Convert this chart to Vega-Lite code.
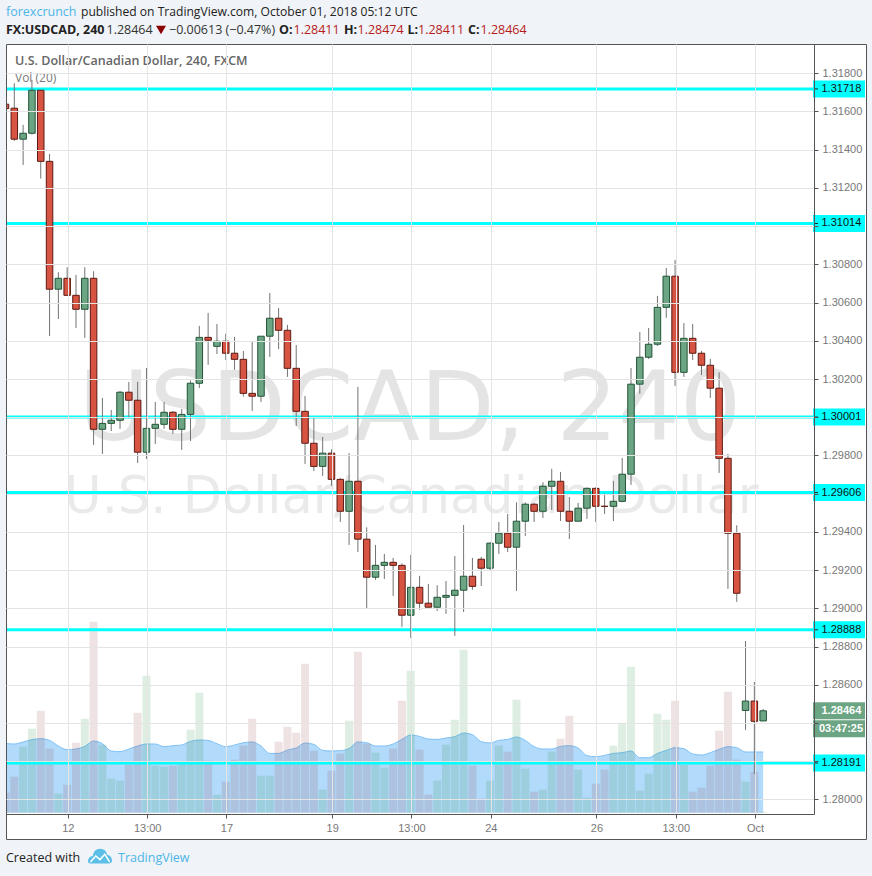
{"$schema":"https://vega.github.io/schema/vega-lite/v6.json","width":808,"height":770,"autosize":{"type":"none"},"padding":{"left":6,"top":44,"right":58,"bottom":62},"background":"#f0f3f7","view":{"fill":"#ffffff","stroke":null},"config":{"axis":{"title":null}},"resolve":{"scale":{"y":"independent"}},
"datasets":{"c":[
{"i":0,"o":1.31638,"h":1.3166,"l":1.316,"c":1.31615,"v":20,"m":69.3},
{"i":1,"o":1.31617,"h":1.31748,"l":1.31446,"c":1.31455,"v":36,"m":68.7},
{"i":2,"o":1.31455,"h":1.3153,"l":1.3132,"c":1.31486,"v":66,"m":70.7},
{"i":3,"o":1.31486,"h":1.31765,"l":1.31479,"c":1.31711,"v":84,"m":73},
{"i":4,"o":1.31711,"h":1.31711,"l":1.31249,"c":1.31339,"v":102,"m":74},
{"i":5,"o":1.31339,"h":1.31378,"l":1.30425,"c":1.3067,"v":64,"m":72.3},
{"i":6,"o":1.3067,"h":1.30759,"l":1.30514,"c":1.30727,"v":19,"m":66.7},
{"i":7,"o":1.30727,"h":1.30785,"l":1.30638,"c":1.30638,"v":28,"m":63},
{"i":8,"o":1.30638,"h":1.30745,"l":1.30467,"c":1.30565,"v":70,"m":63.7},
{"i":9,"o":1.30565,"h":1.30785,"l":1.30415,"c":1.30727,"v":94,"m":66.3},
{"i":10,"o":1.30727,"h":1.30764,"l":1.29855,"c":1.29937,"v":191,"m":71.7},
{"i":11,"o":1.29937,"h":1.30101,"l":1.29808,"c":1.29968,"v":68,"m":69},
{"i":12,"o":1.29968,"h":1.30038,"l":1.29928,"c":1.29984,"v":34,"m":61.7},
{"i":13,"o":1.29984,"h":1.30138,"l":1.29939,"c":1.30131,"v":32,"m":61},
{"i":14,"o":1.30131,"h":1.30185,"l":1.29995,"c":1.30089,"v":48,"m":63.7},
{"i":15,"o":1.30089,"h":1.30185,"l":1.29761,"c":1.29817,"v":100,"m":66.7},
{"i":16,"o":1.29817,"h":1.30258,"l":1.29782,"c":1.29942,"v":137,"m":68.7},
{"i":17,"o":1.29942,"h":1.3008,"l":1.2986,"c":1.29963,"v":47,"m":68.7},
{"i":18,"o":1.29963,"h":1.3008,"l":1.29939,"c":1.30026,"v":46,"m":66},
{"i":19,"o":1.30026,"h":1.30033,"l":1.29913,"c":1.29937,"v":47,"m":67},
{"i":20,"o":1.29937,"h":1.30043,"l":1.29829,"c":1.30015,"v":49,"m":67.7},
{"i":21,"o":1.30015,"h":1.30193,"l":1.29876,"c":1.30178,"v":83,"m":71.3},
{"i":22,"o":1.30178,"h":1.30478,"l":1.30153,"c":1.30418,"v":120,"m":72.7},
{"i":23,"o":1.30418,"h":1.30546,"l":1.30274,"c":1.30403,"v":52,"m":72.3},
{"i":24,"o":1.30371,"h":1.30488,"l":1.30331,"c":1.30398,"v":18,"m":69},
{"i":25,"o":1.30398,"h":1.30436,"l":1.303,"c":1.30335,"v":31,"m":66},
{"i":26,"o":1.30335,"h":1.3042,"l":1.30248,"c":1.30303,"v":53,"m":67.7},
{"i":27,"o":1.30303,"h":1.30347,"l":1.30108,"c":1.30125,"v":67,"m":70},
{"i":28,"o":1.30125,"h":1.30399,"l":1.30033,"c":1.3011,"v":94,"m":70.7},
{"i":29,"o":1.3011,"h":1.30424,"l":1.3008,"c":1.30424,"v":37,"m":66.7},
{"i":30,"o":1.30424,"h":1.3065,"l":1.30316,"c":1.30518,"v":37,"m":59.3},
{"i":31,"o":1.30518,"h":1.30572,"l":1.30357,"c":1.30455,"v":71,"m":59.3},
{"i":32,"o":1.30455,"h":1.30483,"l":1.30211,"c":1.30256,"v":86,"m":62.7},
{"i":33,"o":1.30256,"h":1.30378,"l":1.29954,"c":1.30031,"v":80,"m":64.7},
{"i":34,"o":1.30031,"h":1.30111,"l":1.29756,"c":1.29864,"v":149,"m":69.7},
{"i":35,"o":1.29864,"h":1.29995,"l":1.29719,"c":1.29743,"v":62,"m":68.3},
{"i":36,"o":1.29743,"h":1.29897,"l":1.29693,"c":1.29812,"v":23,"m":62.3},
{"i":37,"o":1.29812,"h":1.29832,"l":1.29641,"c":1.29675,"v":42,"m":61.7},
{"i":38,"o":1.29675,"h":1.29681,"l":1.29452,"c":1.29508,"v":59,"m":62},
{"i":39,"o":1.29508,"h":1.29812,"l":1.29332,"c":1.29665,"v":92,"m":64.3},
{"i":40,"o":1.29665,"h":1.30159,"l":1.29295,"c":1.29362,"v":161,"m":70.7},
{"i":41,"o":1.29362,"h":1.29424,"l":1.29002,"c":1.29163,"v":69,"m":70},
{"i":42,"o":1.29163,"h":1.29332,"l":1.29149,"c":1.29225,"v":60,"m":66.7},
{"i":43,"o":1.29225,"h":1.29285,"l":1.29154,"c":1.29241,"v":45,"m":66.7},
{"i":44,"o":1.29241,"h":1.29264,"l":1.29065,"c":1.29225,"v":64,"m":68.7},
{"i":45,"o":1.29225,"h":1.29236,"l":1.28903,"c":1.28964,"v":112,"m":73.3},
{"i":46,"o":1.28964,"h":1.2928,"l":1.28845,"c":1.2911,"v":142,"m":77.7},
{"i":47,"o":1.2911,"h":1.2917,"l":1.28992,"c":1.29027,"v":63,"m":76.3},
{"i":48,"o":1.29027,"h":1.29128,"l":1.29006,"c":1.29006,"v":18,"m":73.7},
{"i":49,"o":1.29006,"h":1.29121,"l":1.28986,"c":1.29058,"v":32,"m":73.3},
{"i":50,"o":1.29058,"h":1.29143,"l":1.28971,"c":1.29068,"v":68,"m":74.7},
{"i":51,"o":1.29068,"h":1.29274,"l":1.28856,"c":1.29095,"v":93,"m":76},
{"i":52,"o":1.29095,"h":1.29436,"l":1.28981,"c":1.29168,"v":163,"m":79.7},
{"i":53,"o":1.29168,"h":1.29264,"l":1.29097,"c":1.29115,"v":47,"m":78},
{"i":54,"o":1.29257,"h":1.29269,"l":1.29117,"c":1.2921,"v":14,"m":71},
{"i":55,"o":1.2921,"h":1.29346,"l":1.29198,"c":1.29341,"v":32,"m":69.7},
{"i":56,"o":1.29341,"h":1.29452,"l":1.29285,"c":1.29393,"v":67,"m":72.3},
{"i":57,"o":1.29393,"h":1.29494,"l":1.29295,"c":1.2932,"v":61,"m":73.3},
{"i":58,"o":1.2932,"h":1.29555,"l":1.29091,"c":1.29456,"v":113,"m":75.7},
{"i":59,"o":1.29456,"h":1.29555,"l":1.29379,"c":1.29545,"v":44,"m":72.3},
{"i":60,"o":1.29545,"h":1.2955,"l":1.29452,"c":1.29508,"v":21,"m":66},
{"i":61,"o":1.29508,"h":1.2966,"l":1.29473,"c":1.29639,"v":23,"m":63.7},
{"i":62,"o":1.29639,"h":1.2973,"l":1.29515,"c":1.29665,"v":61,"m":63.7},
{"i":63,"o":1.29665,"h":1.29714,"l":1.29457,"c":1.29508,"v":74,"m":66.3},
{"i":64,"o":1.29508,"h":1.29583,"l":1.29363,"c":1.29456,"v":97,"m":67},
{"i":65,"o":1.29456,"h":1.29552,"l":1.29456,"c":1.29524,"v":43,"m":64.7},
{"i":66,"o":1.29524,"h":1.29633,"l":1.29468,"c":1.29628,"v":15,"m":57},
{"i":67,"o":1.29628,"h":1.29633,"l":1.29452,"c":1.29534,"v":29,"m":56},
{"i":68,"o":1.29534,"h":1.29602,"l":1.29494,"c":1.29534,"v":43,"m":57.3},
{"i":69,"o":1.29534,"h":1.29667,"l":1.29457,"c":1.2956,"v":67,"m":59.3},
{"i":70,"o":1.2956,"h":1.29787,"l":1.29555,"c":1.29702,"v":90,"m":60},
{"i":71,"o":1.29702,"h":1.30258,"l":1.29646,"c":1.30173,"v":146,"m":61.7},
{"i":72,"o":1.30173,"h":1.30446,"l":1.30122,"c":1.30314,"v":22,"m":55},
{"i":73,"o":1.30314,"h":1.30467,"l":1.30305,"c":1.30382,"v":39,"m":55},
{"i":74,"o":1.30382,"h":1.30635,"l":1.30373,"c":1.30575,"v":99,"m":59.3},
{"i":75,"o":1.30575,"h":1.30781,"l":1.3052,"c":1.30738,"v":93,"m":62.3},
{"i":76,"o":1.30738,"h":1.30823,"l":1.30164,"c":1.30235,"v":112,"m":65},
{"i":77,"o":1.30235,"h":1.30493,"l":1.30211,"c":1.30413,"v":48,"m":64},
{"i":78,"o":1.30413,"h":1.30488,"l":1.303,"c":1.30335,"v":21,"m":58.7},
{"i":79,"o":1.30335,"h":1.30347,"l":1.30221,"c":1.30272,"v":25,"m":57.7},
{"i":80,"o":1.30272,"h":1.30305,"l":1.30101,"c":1.30152,"v":47,"m":60},
{"i":81,"o":1.30152,"h":1.30235,"l":1.29709,"c":1.29785,"v":82,"m":63.3},
{"i":82,"o":1.29785,"h":1.29808,"l":1.29102,"c":1.29393,"v":121,"m":66},
{"i":83,"o":1.29393,"h":1.29435,"l":1.29034,"c":1.29079,"v":53,"m":65},
{"i":84,"o":1.28466,"h":1.28829,"l":1.28364,"c":1.28515,"v":31,"m":60.7},
{"i":85,"o":1.28515,"h":1.28615,"l":1.28133,"c":1.28409,"v":41,"m":60.7},
{"i":86,"o":1.28411,"h":1.28474,"l":1.28411,"c":1.28464,"v":1,"m":60.7}
],"levels":[{"p":1.31718},{"p":1.31014},{"p":1.30001},{"p":1.29606},{"p":1.28888},{"p":1.28191}],"last":[{"p":1.28464}]},
"layer":[
{"data":{"values":[{}]},"mark":{"type":"rect"},"encoding":{"x":{"value":808},"x2":{"value":860},"y":{"value":0},"y2":{"value":795},"color":{"value":"#ffffff"},"opacity":{"value":1}}},
{"data":{"values":[{}]},"mark":{"type":"rect"},"encoding":{"x":{"value":0},"x2":{"value":808},"y":{"value":770},"y2":{"value":795},"color":{"value":"#ffffff"},"opacity":{"value":1}}},
{"data":{"values":[{}]},"mark":{"type":"text","text":"USDCAD, 240","font":"DejaVu Sans","fontSize":97,"align":"center","baseline":"alphabetic","x":404,"y":396,"fill":"#000000","opacity":0.1}},
{"data":{"values":[{}]},"mark":{"type":"text","text":"U.S. Dollar/Canadian Dollar","font":"DejaVu Sans","fontSize":51,"align":"center","baseline":"alphabetic","x":405.5,"y":469,"fill":"#000000","opacity":0.08}},
{"data":{"name":"c"},"mark":{"type":"area","interpolate":"monotone","fill":"#2196f3","fillOpacity":0.35,"line":{"stroke":"#7cc0f5","strokeWidth":1},"clip":true},"encoding":{"x":{"field":"i","type":"quantitative","scale":{"domain":[0.0568,91.77],"nice":false,"zero":false,"padding":0},"axis":{"values":[7.08,16.08,25.08,37.08,46.08,55.08,67.08,76.08,85.08],"labelExpr":"({'7.08':'12','16.08':'13:00','25.08':'17','37.08':'19','46.08':'13:00','55.08':'24','67.08':'26','76.08':'13:00','85.08':'Oct'})[datum.value]","labelFont":"Liberation Sans","labelFontSize":11,"labelColor":{"condition":{"test":"datum.label=='Oct'","value":"#555555"},"value":"#777777"},"labelFontWeight":{"condition":{"test":"datum.label=='Oct'","value":"bold"},"value":"normal"},"labelFlush":false,"labelOverlap":false,"tickSize":4,"tickColor":"#555555","domainColor":"#555555","gridColor":"#e4e4e4","grid":true,"labelPadding":4,"zindex":1}},"y":{"field":"m","type":"quantitative","scale":{"domain":[-1.3,768.7],"nice":false,"zero":false},"axis":null}}},
{"data":{"name":"c"},"mark":{"type":"bar","size":8,"clip":true},"encoding":{"x":{"field":"i","type":"quantitative","scale":{"domain":[0.0568,91.77],"nice":false,"zero":false,"padding":0}},"y":{"field":"v","type":"quantitative","stack":null,"scale":{"domain":[-1.3,768.7],"nice":false,"zero":false},"axis":null},"color":{"condition":{"test":"datum.c<=datum.o","value":"#8e3e3e"},"value":"#238e3e"},"opacity":{"value":0.15}}},
{"data":{"name":"levels"},"mark":{"type":"rule","stroke":"#00ffff","strokeWidth":3},"encoding":{"y":{"field":"p","type":"quantitative","scale":{"domain":[1.27924,1.31953],"nice":false,"zero":false},"axis":{"orient":"right","values":[1.28,1.282,1.284,1.286,1.288,1.29,1.292,1.294,1.296,1.298,1.3,1.302,1.304,1.306,1.308,1.31,1.312,1.314,1.316,1.318],"format":".5f","labelExpr":"indexof(['1.31000','1.30000','1.29600','1.28400','1.28200'],datum.label)>=0?'':datum.label","labelFont":"Liberation Sans","labelFontSize":11,"labelColor":"#777777","tickSize":4,"tickColor":"#555555","domainColor":"#555555","gridColor":"#e4e4e4","grid":true,"labelPadding":4,"labelOverlap":false,"zindex":1}}}},
{"data":{"name":"c"},"mark":{"type":"rule","stroke":"#737375","strokeWidth":1,"clip":true},"encoding":{"x":{"field":"i","type":"quantitative","scale":{"domain":[0.0568,91.77],"nice":false,"zero":false,"padding":0}},"y":{"field":"h","type":"quantitative","scale":{"domain":[1.27924,1.31953],"nice":false,"zero":false},"axis":null},"y2":{"field":"l"}}},
{"data":{"name":"c"},"mark":{"type":"bar","size":6.5,"strokeWidth":1,"clip":true},"encoding":{"x":{"field":"i","type":"quantitative","scale":{"domain":[0.0568,91.77],"nice":false,"zero":false,"padding":0}},"y":{"field":"o","type":"quantitative","stack":null,"scale":{"domain":[1.27924,1.31953],"nice":false,"zero":false},"axis":null},"y2":{"field":"c"},"fill":{"condition":{"test":"datum.c<=datum.o","value":"#d75442"},"value":"#6ba583"},"stroke":{"condition":{"test":"datum.c<=datum.o","value":"#5b1a13"},"value":"#225437"}}},
{"data":{"name":"levels"},"mark":{"type":"tick","color":"#00ffff","opacity":1,"thickness":17,"size":52},"encoding":{"x":{"value":833},"y":{"field":"p","type":"quantitative","scale":{"domain":[1.27924,1.31953],"nice":false,"zero":false},"axis":null}}},
{"data":{"name":"levels"},"mark":{"type":"tick","color":"#222222","opacity":1,"thickness":1,"size":4},"encoding":{"x":{"value":810},"y":{"field":"p","type":"quantitative","scale":{"domain":[1.27924,1.31953],"nice":false,"zero":false},"axis":null}}},
{"data":{"name":"levels"},"mark":{"type":"text","font":"Liberation Sans","fontSize":11,"fill":"#111111","align":"left","baseline":"middle","dx":0},"encoding":{"x":{"value":815.5},"y":{"field":"p","type":"quantitative","scale":{"domain":[1.27924,1.31953],"nice":false,"zero":false},"axis":null},"text":{"field":"p","type":"quantitative","format":".5f"}}},
{"data":{"name":"last"},"mark":{"type":"tick","color":"#6ba583","opacity":1,"thickness":17,"size":52},"encoding":{"x":{"value":833},"y":{"field":"p","type":"quantitative","scale":{"domain":[1.27924,1.31953],"nice":false,"zero":false},"axis":null}}},
{"data":{"name":"last"},"mark":{"type":"tick","color":"#6ba583","opacity":1,"thickness":17,"size":52,"yOffset":18},"encoding":{"x":{"value":833},"y":{"field":"p","type":"quantitative","scale":{"domain":[1.27924,1.31953],"nice":false,"zero":false},"axis":null}}},
{"data":{"name":"last"},"mark":{"type":"text","font":"Liberation Sans","fontSize":11,"fontWeight":"bold","fill":"#ffffff","align":"left","baseline":"middle"},"encoding":{"x":{"value":815.5},"y":{"field":"p","type":"quantitative","scale":{"domain":[1.27924,1.31953],"nice":false,"zero":false},"axis":null},"text":{"field":"p","type":"quantitative","format":".5f"}}},
{"data":{"values":[{}]},"mark":{"type":"text","text":"03:47:25","font":"Liberation Sans","fontSize":11,"fontWeight":"bold","fill":"#ffffff","align":"left","baseline":"middle","x":813,"y":685}},
{"data":{"values":[{}]},"mark":{"type":"rect","fill":null,"stroke":"#555555","strokeWidth":1},"encoding":{"x":{"value":0.5},"x2":{"value":860.5},"y":{"value":0.5},"y2":{"value":795.5}}},
{"data":{"values":[{}]},"mark":{"type":"text","text":"U.S. Dollar/Canadian Dollar, 240, FXCM","font":"Open Sans","fontSize":12.5,"fontWeight":600,"fill":"#666666","align":"left","baseline":"alphabetic","x":9,"y":20.5}},
{"data":{"values":[{}]},"mark":{"type":"text","text":"Vol (20)","font":"Open Sans","fontSize":12,"fill":"#777777","align":"left","baseline":"alphabetic","x":9,"y":38}},
{"data":{"values":[{}]},"mark":{"type":"text","text":"forexcrunch","font":"Open Sans","fontSize":12.5,"fill":"#4db6e8","align":"left","baseline":"alphabetic","x":0,"y":-28}},
{"data":{"values":[{}]},"mark":{"type":"text","text":"published on TradingView.com, October 01, 2018 05:12 UTC","font":"Open Sans","fontSize":12.1,"fill":"#222222","align":"left","baseline":"alphabetic","x":75,"y":-28}},
{"data":{"values":[{}]},"mark":{"type":"text","text":"FX:USDCAD, 240","font":"Open Sans","fontSize":12.5,"fontWeight":"bold","fill":"#222222","align":"left","baseline":"alphabetic","x":0,"y":-10}},
{"data":{"values":[{}]},"mark":{"type":"text","text":"1.28464","font":"Open Sans","fontSize":12.5,"fill":"#333333","align":"left","baseline":"alphabetic","x":100.5,"y":-10}},
{"data":{"values":[{}]},"mark":{"type":"point","shape":"triangle-down","filled":true,"fill":"#8b0000","size":100,"opacity":1,"x":155,"y":-14}},
{"data":{"values":[{}]},"mark":{"type":"text","text":"−0.00613 (−0.47%)","font":"Open Sans","fontSize":12.5,"fill":"#333333","align":"left","baseline":"alphabetic","x":163,"y":-10}},
{"data":{"values":[{}]},"mark":{"type":"text","text":"O:","font":"Open Sans","fontSize":12.5,"fontWeight":"bold","fill":"#222222","align":"left","baseline":"alphabetic","x":273,"y":-10}},
{"data":{"values":[{}]},"mark":{"type":"text","text":"1.28411","font":"Open Sans","fontSize":12.5,"fill":"#b71c1c","align":"left","baseline":"alphabetic","x":287.5,"y":-10}},
{"data":{"values":[{}]},"mark":{"type":"text","text":"H:","font":"Open Sans","fontSize":12.5,"fontWeight":"bold","fill":"#222222","align":"left","baseline":"alphabetic","x":338,"y":-10}},
{"data":{"values":[{}]},"mark":{"type":"text","text":"1.28474","font":"Open Sans","fontSize":12.5,"fill":"#b71c1c","align":"left","baseline":"alphabetic","x":351.5,"y":-10}},
{"data":{"values":[{}]},"mark":{"type":"text","text":"L:","font":"Open Sans","fontSize":12.5,"fontWeight":"bold","fill":"#222222","align":"left","baseline":"alphabetic","x":401.5,"y":-10}},
{"data":{"values":[{}]},"mark":{"type":"text","text":"1.28411","font":"Open Sans","fontSize":12.5,"fill":"#b71c1c","align":"left","baseline":"alphabetic","x":412,"y":-10}},
{"data":{"values":[{}]},"mark":{"type":"text","text":"C:","font":"Open Sans","fontSize":12.5,"fontWeight":"bold","fill":"#222222","align":"left","baseline":"alphabetic","x":462,"y":-10}},
{"data":{"values":[{}]},"mark":{"type":"text","text":"1.28464","font":"Open Sans","fontSize":12.5,"fill":"#b71c1c","align":"left","baseline":"alphabetic","x":474.5,"y":-10}},
{"data":{"values":[{}]},"mark":{"type":"text","text":"Created with","font":"Open Sans","fontSize":12.5,"fill":"#222222","align":"left","baseline":"alphabetic","x":0,"y":818}},
{"data":{"values":[{}]},"mark":{"type":"point","shape":"M-1 0.45Q-1 0.05-0.6 0Q-0.5-0.6 0-0.6Q0.5-0.6 0.6-0.1Q1 0 1 0.4Q1 0.62 0.7 0.62L-0.7 0.62Q-1 0.62-1 0.45Z","filled":true,"fill":"#5bbfe8","size":576,"opacity":1,"x":94,"y":812}},
{"data":{"values":[{}]},"mark":{"type":"point","shape":"M-0.8 0.5L-0.35 0L0 0.3L0.4-0.15L0.8 0.5","filled":false,"stroke":"#ffffff","strokeWidth":1.5,"size":576,"opacity":1,"x":94,"y":812}},
{"data":{"values":[{}]},"mark":{"type":"text","text":"TradingView","font":"Open Sans","fontSize":12.5,"fill":"#4db6e8","align":"left","baseline":"alphabetic","x":112,"y":818}}
]}
